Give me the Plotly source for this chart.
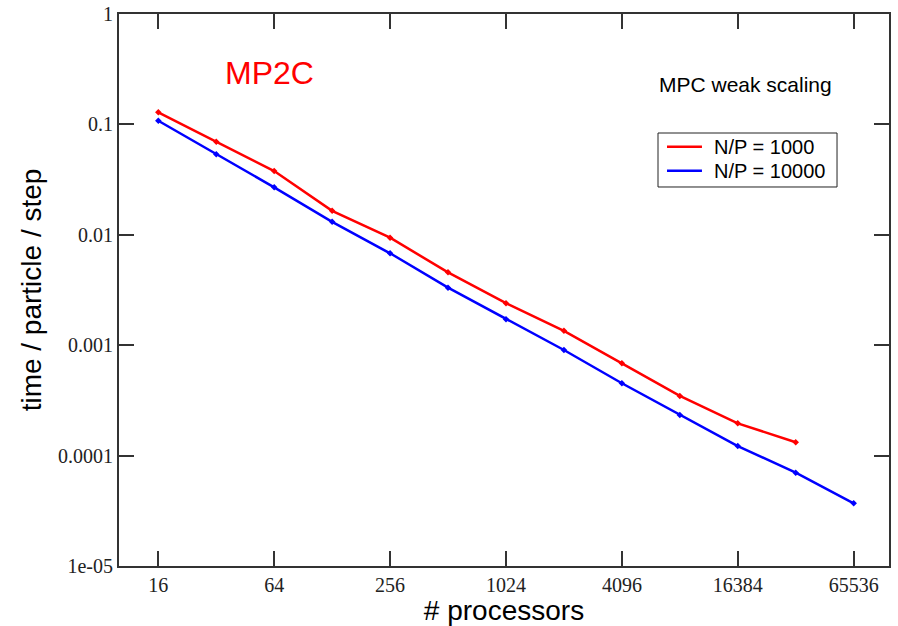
import plotly.graph_objects as go

# ---- data ----
processors_1000 = [16, 32, 64, 128, 256, 512, 1024, 2048, 4096, 8192, 16384, 32768]
time_1000 = [0.1288, 0.0697, 0.0378, 0.0165, 0.00941, 0.00457, 0.00240, 0.00135,
             0.000686, 0.000347, 0.000196, 0.000132]

processors_10000 = [16, 32, 64, 128, 256, 512, 1024, 2048, 4096, 8192, 16384, 32768, 65536]
time_10000 = [0.108, 0.0536, 0.0269, 0.0131, 0.00680, 0.00332, 0.00172, 0.000905,
              0.000452, 0.000233, 0.000122, 0.0000700, 0.0000370]

x_tick_vals = [16, 64, 256, 1024, 4096, 16384, 65536]
x_tick_text = ["16", "64", "256", "1024", "4096", "16384", "65536"]
y_tick_vals = [1, 0.1, 0.01, 0.001, 0.0001, 0.00001]
y_tick_text = ["1", "0.1", "0.01", "0.001", "0.0001", "1e-05"]

series_names = ["N/P = 1000", "N/P = 10000"]
series_colors = ["#ff0000", "#0000ff"]

fig = go.Figure()
for xs, ys, name, color in [(processors_1000, time_1000, series_names[0], series_colors[0]),
                            (processors_10000, time_10000, series_names[1], series_colors[1])]:
    fig.add_trace(go.Scatter(
        x=xs, y=ys, name=name, mode="lines+markers",
        line=dict(color=color, width=2.5),
        marker=dict(symbol="diamond", size=5, color=color),
        showlegend=False,
    ))

tick_font = dict(family="Liberation Serif", size=20, color="#222")
title_font = dict(family="Liberation Sans", size=28, color="#000")

# hand-built legend box (Grace-style) in paper coordinates
leg_x0, leg_x1, leg_y0, leg_y1 = 0.700, 0.9325, 0.6866, 0.7844
leg_rows_y = [0.7596, 0.7161]
leg_line_x0, leg_line_x1, leg_text_x = 0.7117, 0.7571, 0.7701

shapes = [dict(type="rect", xref="paper", yref="paper",
               x0=leg_x0, x1=leg_x1, y0=leg_y0, y1=leg_y1,
               line=dict(color="#222", width=1), fillcolor="white", layer="above")]
annotations = [
    dict(text="MP2C", x=0.196, y=0.894, xref="paper", yref="paper",
         xanchor="center", yanchor="middle", showarrow=False,
         font=dict(family="Liberation Sans", size=32, color="#ff0000")),
    dict(text="MPC weak scaling", x=0.814, y=0.872, xref="paper", yref="paper",
         xanchor="center", yanchor="middle", showarrow=False,
         font=dict(family="Liberation Sans", size=21, color="#000")),
]
for name, color, ry in zip(series_names, series_colors, leg_rows_y):
    shapes.append(dict(type="line", xref="paper", yref="paper",
                       x0=leg_line_x0, x1=leg_line_x1, y0=ry, y1=ry,
                       line=dict(color=color, width=2.5), layer="above"))
    annotations.append(dict(text=name, x=leg_text_x, y=ry, xref="paper", yref="paper",
                            xanchor="left", yanchor="middle", showarrow=False,
                            font=dict(family="Liberation Sans", size=20, color="#000")))

fig.update_layout(
    width=898, height=626,
    margin=dict(l=119, r=9, t=14, b=60),
    paper_bgcolor="white", plot_bgcolor="white",
    showlegend=False,
    xaxis=dict(
        type="log", range=[1, 5], automargin=False,
        tickvals=x_tick_vals, ticktext=x_tick_text,
        ticks="inside", ticklen=15, tickwidth=1.5, tickcolor="#333",
        showline=True, linecolor="#333", linewidth=2, mirror="ticks",
        showgrid=False, zeroline=False,
        tickfont=tick_font,
        title=dict(text="# processors", font=title_font, standoff=0),
    ),
    yaxis=dict(
        type="log", range=[-5, 0], automargin=False,
        tickvals=y_tick_vals, ticktext=y_tick_text,
        ticks="inside", ticklen=15, tickwidth=1.5, tickcolor="#333",
        showline=True, linecolor="#333", linewidth=2, mirror="ticks",
        showgrid=False, zeroline=False,
        tickfont=tick_font,
        title=dict(text="time / particle / step", font=title_font, standoff=8),
    ),
    shapes=shapes,
    annotations=annotations,
)

fig.write_html("out.html")
